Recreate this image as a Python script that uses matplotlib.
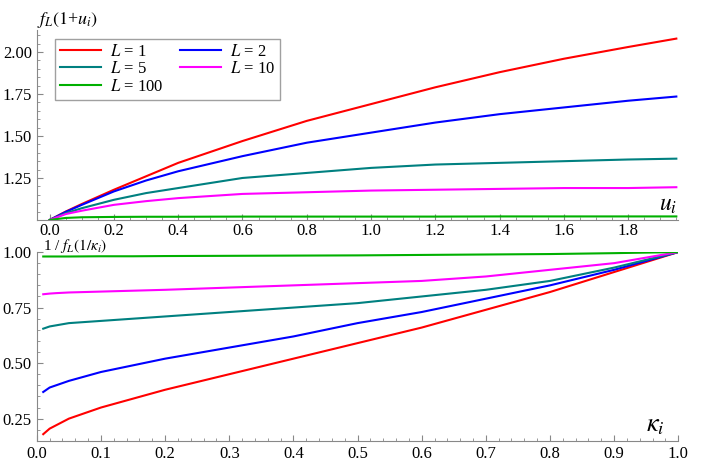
import matplotlib
matplotlib.use("Agg")
import matplotlib.pyplot as plt

plt.rcParams["font.family"] = "Liberation Serif"
plt.rcParams["mathtext.fontset"] = "stix"

labels = ["$L$ = 1", "$L$ = 2", "$L$ = 5", "$L$ = 10", "$L$ = 100"]
colors = ["#ff0000", "#0000ff", "#008080", "#ff00ff", "#00b000"]

u = [0, 0.05, 0.1, 0.2, 0.3, 0.4, 0.6, 0.8, 1.0, 1.2, 1.4, 1.6, 1.8, 1.95]
f_red = [1, 1.05, 1.095, 1.18, 1.26, 1.34, 1.47, 1.59, 1.69, 1.79, 1.88, 1.96, 2.03, 2.08]
f_blue = [1, 1.048, 1.09, 1.17, 1.235, 1.29, 1.38, 1.46, 1.52, 1.58, 1.63, 1.67, 1.71, 1.735]
f_teal = [1, 1.04, 1.07, 1.12, 1.16, 1.19, 1.25, 1.28, 1.31, 1.33, 1.34, 1.35, 1.36, 1.365]
f_mag = [1, 1.035, 1.055, 1.09, 1.112, 1.13, 1.155, 1.165, 1.175, 1.18, 1.185, 1.19, 1.19, 1.195]
f_green = [1, 1.012, 1.016, 1.018, 1.019, 1.019, 1.02, 1.02, 1.02, 1.02, 1.021, 1.021, 1.021, 1.021]

kappa = [0.01, 0.02, 0.03, 0.05, 0.1, 0.15, 0.2, 0.3, 0.4, 0.5, 0.6, 0.7, 0.8, 0.9, 1.0]
g_red = [0.18, 0.205, 0.22, 0.25, 0.30, 0.34, 0.38, 0.45, 0.52, 0.59, 0.66, 0.74, 0.82, 0.91, 1.0]
g_blue = [0.37, 0.39, 0.40, 0.42, 0.46, 0.49, 0.52, 0.57, 0.62, 0.68, 0.73, 0.79, 0.85, 0.92, 1.0]
g_teal = [0.655, 0.665, 0.67, 0.68, 0.69, 0.70, 0.71, 0.73, 0.75, 0.77, 0.80, 0.83, 0.87, 0.93, 1.0]
g_mag = [0.81, 0.813, 0.815, 0.818, 0.822, 0.826, 0.83, 0.84, 0.85, 0.86, 0.87, 0.89, 0.92, 0.95, 1.0]
g_green = [0.98, 0.98, 0.98, 0.98, 0.981, 0.981, 0.982, 0.983, 0.984, 0.985, 0.987, 0.989, 0.991, 0.995, 1.0]

upper = [f_red, f_blue, f_teal, f_mag, f_green]
lower = [g_red, g_blue, g_teal, g_mag, g_green]


def style(ax):
    for s in ["top", "right"]:
        ax.spines[s].set_visible(False)
    for s in ["left", "bottom"]:
        ax.spines[s].set_color("#888888")
    ax.tick_params(direction="in", length=4, color="#888888", labelsize=12)
    ax.minorticks_on()
    ax.tick_params(which="minor", direction="in", length=2, color="#888888")


fig = plt.figure(figsize=(7.08, 4.72), dpi=100)
ax1 = fig.add_axes([0.052, 0.534, 0.906, 0.402])
ax2 = fig.add_axes([0.052, 0.066, 0.906, 0.400])

lines = []
for y, c, lab in zip(upper, colors, labels):
    lines += ax1.plot(u, y, color=c, lw=1.5, label=lab)
ax1.set_xlim(-0.04, 1.956)
ax1.set_ylim(1.0, 2.13)
ax1.set_xticks([0, 0.2, 0.4, 0.6, 0.8, 1.0, 1.2, 1.4, 1.6, 1.8])
ax1.set_yticks([1.25, 1.5, 1.75, 2.0])
ax1.set_yticklabels(["1.25", "1.50", "1.75", "2.00"])
style(ax1)
ax1.tick_params(axis="x", pad=2)
ax1.text(0.0, 1.0, "$f_L(1$+$u_i)$", transform=ax1.transAxes, fontsize=13,
         ha="left", va="bottom")
ax1.text(0.97, 0.02, "$u_i$", transform=ax1.transAxes, fontsize=17,
         ha="left", va="bottom")
# matplotlib fills legend columns first, reorder so rows read 1,2 / 5,10 / 100
order = [0, 2, 4, 1, 3]
ax1.legend([lines[i] for i in order], [labels[i] for i in order],
           loc="upper left", bbox_to_anchor=(0.015, 1.0), ncol=2, fontsize=12,
           fancybox=False, edgecolor="#888888", handlelength=2.5,
           borderpad=0.3, labelspacing=0.1, columnspacing=1.0, handletextpad=0.5)

for y, c in zip(lower, colors):
    ax2.plot(kappa, y, color=c, lw=1.5)
ax2.set_xlim(0, 1.0)
ax2.set_ylim(0.15, 1.0)
ax2.set_xticks([i / 10 for i in range(11)])
ax2.set_yticks([0.25, 0.5, 0.75, 1.0])
ax2.set_yticklabels(["0.25", "0.50", "0.75", "1.00"])
style(ax2)
ax2.text(0.01, 0.985, r"1 / $f_L(1/\kappa_i)$", transform=ax2.transAxes,
         fontsize=11, ha="left", va="bottom")
ax2.text(0.95, 0.02, r"$\kappa_i$", transform=ax2.transAxes, fontsize=19,
         ha="left", va="bottom")

fig.savefig("out.png", dpi=100)
